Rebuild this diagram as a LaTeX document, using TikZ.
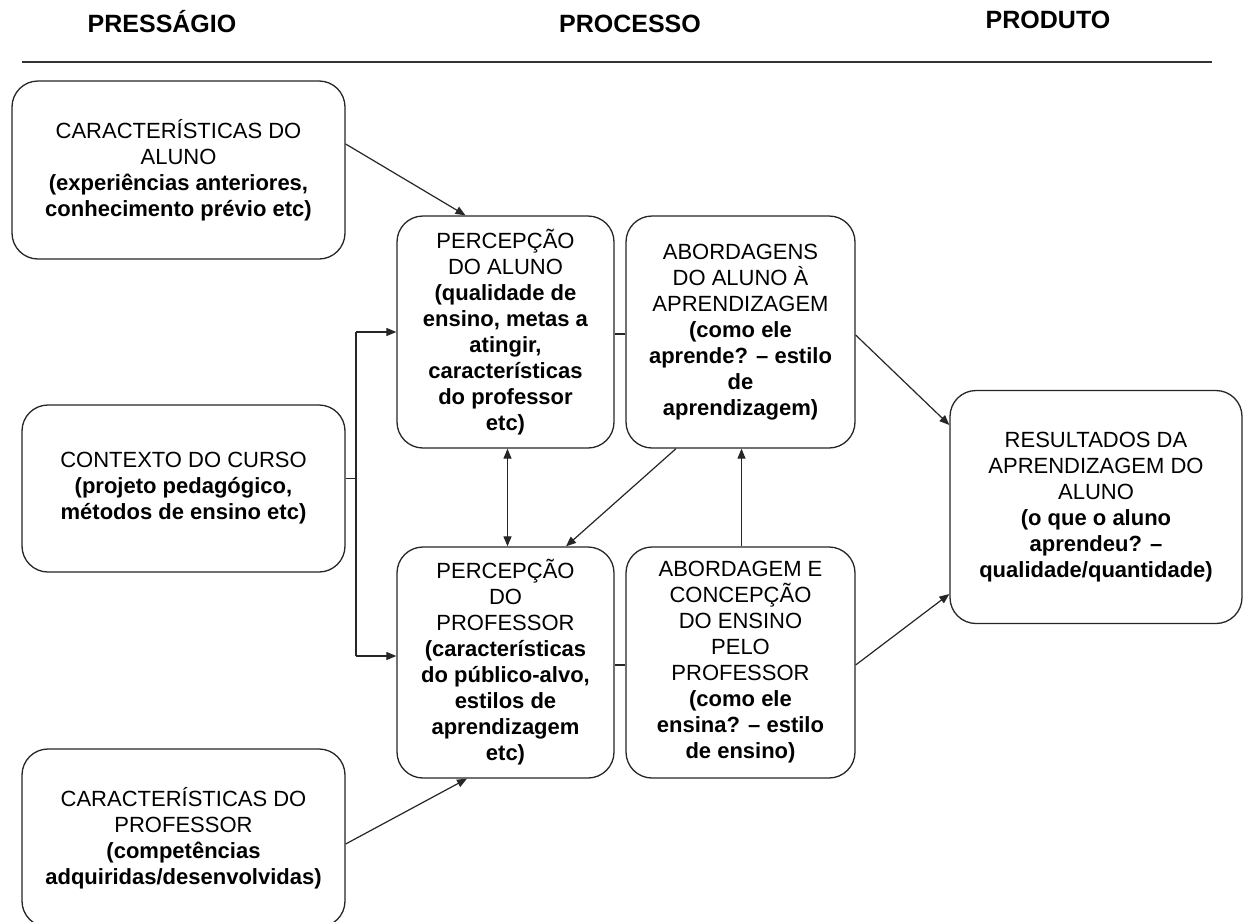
\documentclass[tikz,border=0pt]{standalone}
\usepackage{fontspec}
\setmainfont{Liberation Sans}
\usetikzlibrary{arrows.meta}
\begin{document}
\begin{tikzpicture}[x=1pt,y=-1pt,
  box/.style={draw=black!85, line width=1.3pt, rounded corners=26pt, fill=white,
    align=center, inner sep=0pt, font=\fontsize{22}{26}\selectfont},
  link/.style={draw=black!85, line width=1.2pt},
  arr/.style={link, -{Triangle[length=10pt,width=8pt]}},
  biarr/.style={link, {Triangle[length=10pt,width=8pt]}-{Triangle[length=10pt,width=8pt]}},
  head/.style={font=\fontsize{25}{30}\selectfont\bfseries, anchor=base, inner sep=0pt}]
\useasboundingbox (0,0) rectangle (1247,921);
\clip (0,0) rectangle (1247,921);
\fill[white] (0,0) rectangle (1247,921);

% column headings and rule
\node[head] (h1) at (162,32) {PRESSÁGIO};
\node[head] (h2) at (630,32) {PROCESSO};
\node[head] (h3) at (1048,28) {PRODUTO};
\coordinate (ruleL) at (22,62);
\coordinate (ruleR) at (1212,62);
\draw[draw=black!80, line width=1.5pt] (ruleL) -- (ruleR);

% presage boxes
\node[box, minimum width=333pt, minimum height=178pt] (A) at (178.5,170)
  {CARACTERÍSTICAS DO\\ALUNO\\\textbf{(experiências anteriores,}\\\textbf{conhecimento prévio etc)}};
\node[box, minimum width=323pt, minimum height=167pt] (B) at (183.5,488.5)
  {CONTEXTO DO CURSO\\\textbf{(projeto pedagógico,}\\\textbf{métodos de ensino etc)}};
\node[box, minimum width=323pt, minimum height=178pt] (C) at (183.5,838)
  {CARACTERÍSTICAS DO\\PROFESSOR\\\textbf{(competências}\\\textbf{adquiridas/desenvolvidas)}};

% process boxes
\node[box, minimum width=217pt, minimum height=232pt] (D) at (505.5,332)
  {PERCEPÇÃO\\DO ALUNO\\\textbf{(qualidade de}\\\textbf{ensino, metas a}\\\textbf{atingir,}\\\textbf{características}\\\textbf{do professor}\\\textbf{etc)}};
\node[box, minimum width=229pt, minimum height=232pt] (E) at (740.5,332)
  {ABORDAGENS\\DO ALUNO À\\APRENDIZAGEM\\\textbf{(como ele}\\\textbf{aprende? – estilo}\\\textbf{de}\\\textbf{aprendizagem)}};
\node[box, minimum width=217pt, minimum height=231pt] (F) at (505.5,662.5)
  {PERCEPÇÃO\\DO\\PROFESSOR\\\textbf{(características}\\\textbf{do público-alvo,}\\\textbf{estilos de}\\\textbf{aprendizagem}\\\textbf{etc)}};
\node[box, minimum width=229pt, minimum height=231pt] (G) at (740.5,662.5)
  {ABORDAGEM E\\CONCEPÇÃO\\DO ENSINO\\PELO\\PROFESSOR\\\textbf{(como ele}\\\textbf{ensina? – estilo}\\\textbf{de ensino)}};

% product box
\node[box, minimum width=292pt, minimum height=233pt] (H) at (1096,507)
  {RESULTADOS DA\\APRENDIZAGEM DO\\ALUNO\\\textbf{(o que o aluno}\\\textbf{aprendeu? –}\\\textbf{qualidade/quantidade)}};

% attachment points on the box borders
\coordinate (bus) at (356,0);
\coordinate (Bout) at ([yshift=10pt]B.east);
\coordinate (Din) at (D.west);
\coordinate (Fin) at ([yshift=6.5pt]F.west);

% connectors
\draw[arr] ([yshift=26pt]A.east) -- ([xshift=-40pt]D.north);
\draw[link] (Bout) -- (bus |- Bout);
\draw[link] (bus |- Din) -- (bus |- Fin);
\draw[arr] (bus |- Din) -- (Din);
\draw[arr] (bus |- Fin) -- (Fin);
\draw[biarr] ([xshift=2pt]D.south) -- ([xshift=2pt]F.north);
\draw[link] ([yshift=-2pt]D.east) -- ([yshift=-2pt]E.west);
\draw[link] ([yshift=-2.5pt]F.east) -- ([yshift=-2.5pt]G.west);
\draw[arr] ([xshift=-64.5pt]E.south) -- ([xshift=60.5pt]F.north);
\draw[arr] ([xshift=1pt]G.north) -- ([xshift=1pt]E.south);
\draw[arr] ([yshift=-3pt]E.east) -- ([yshift=82pt]H.west);
\draw[arr] ([yshift=-2.5pt]G.east) -- ([yshift=-87pt]H.west);
\draw[arr] ([yshift=-6pt]C.east) -- ([xshift=-38.5pt]F.south);
\end{tikzpicture}
\end{document}
